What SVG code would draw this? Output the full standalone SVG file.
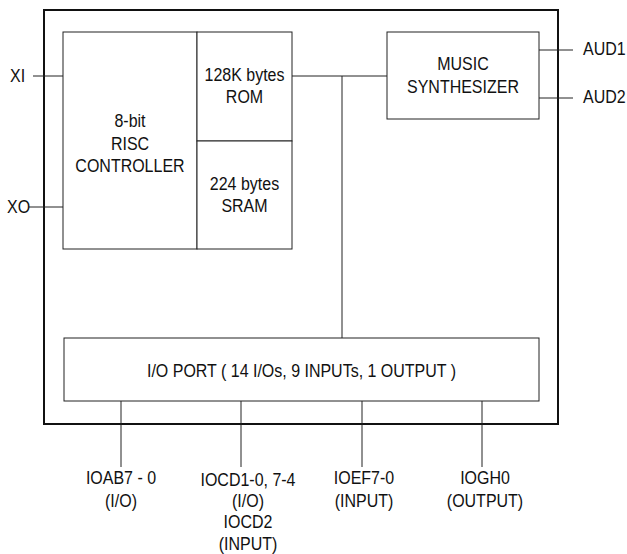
<svg xmlns="http://www.w3.org/2000/svg" width="627" height="554" viewBox="0 0 627 554">
<style>
.box{fill:#fff;stroke:#222;stroke-width:1}
.outer{fill:#fff;stroke:#111;stroke-width:2}
.ln{stroke:#222;stroke-width:1;fill:none}
text{font-family:"Liberation Sans",Arial,sans-serif;font-size:16px;fill:#111}
.c{text-anchor:middle}
</style>
<rect id="chip" class="outer" x="44" y="10" width="514" height="414"/>
<g id="connectors">
<path class="ln" d="M33 76H63"/>
<path class="ln" d="M29 207H63"/>
<path class="ln" d="M292 76H387"/>
<path class="ln" d="M342 76V338"/>
<path class="ln" d="M539 50H573"/>
<path class="ln" d="M539 98H573"/>
<path class="ln" d="M121 401V467"/>
<path class="ln" d="M241 401V467"/>
<path class="ln" d="M362 401V467"/>
<path class="ln" d="M482 401V467"/>
</g>
<g id="controller">
<rect class="box" x="63" y="32" width="134" height="217"/>
<g transform="scale(1,1.12)">
<text class="c" x="130" y="113.4">8-bit</text>
<text class="c" x="130" y="133.9">RISC</text>
<text class="c" x="130" y="153.6">CONTROLLER</text>
</g>
</g>
<g id="rom">
<rect class="box" x="197" y="32" width="95" height="109"/>
<g transform="scale(1,1.12)">
<text class="c" x="244.5" y="72.3">128K bytes</text>
<text class="c" x="244.5" y="92">ROM</text>
</g>
</g>
<g id="sram">
<rect class="box" x="197" y="141" width="95" height="108"/>
<g transform="scale(1,1.12)">
<text class="c" x="244.5" y="169.6">224 bytes</text>
<text class="c" x="244.5" y="189.3">SRAM</text>
</g>
</g>
<g id="music">
<rect class="box" x="387" y="32" width="152" height="87"/>
<g transform="scale(1,1.12)">
<text class="c" x="463" y="62.5">MUSIC</text>
<text class="c" x="463" y="83">SYNTHESIZER</text>
</g>
</g>
<g id="ioport">
<rect class="box" x="64" y="338" width="475" height="63"/>
<g transform="scale(1,1.12)">
<text class="c" x="301.5" y="336.6">I/O PORT ( 14 I/Os, 9 INPUTs, 1 OUTPUT )</text>
</g>
</g>
<g id="xi" transform="scale(1,1.12)"><text x="10" y="73.2">XI</text></g>
<g id="xo" transform="scale(1,1.12)"><text x="7" y="190.2">XO</text></g>
<g id="aud1" transform="scale(1,1.12)"><text x="583" y="49.1">AUD1</text></g>
<g id="aud2" transform="scale(1,1.12)"><text x="583" y="92">AUD2</text></g>
<g id="ioab" transform="scale(1,1.12)">
<text class="c" x="121" y="432.1">IOAB7 - 0</text>
<text class="c" x="121" y="452.7">(I/O)</text>
</g>
<g id="iocd" transform="scale(1,1.12)">
<text class="c" x="248" y="433.9">IOCD1-0, 7-4</text>
<text class="c" x="248" y="452.7">(I/O)</text>
<text class="c" x="248" y="471.4">IOCD2</text>
<text class="c" x="248" y="491">(INPUT)</text>
</g>
<g id="ioef" transform="scale(1,1.12)">
<text class="c" x="364" y="432.1">IOEF7-0</text>
<text class="c" x="364" y="452.7">(INPUT)</text>
</g>
<g id="iogh" transform="scale(1,1.12)">
<text class="c" x="485" y="432.1">IOGH0</text>
<text class="c" x="485" y="452.7">(OUTPUT)</text>
</g>
</svg>
